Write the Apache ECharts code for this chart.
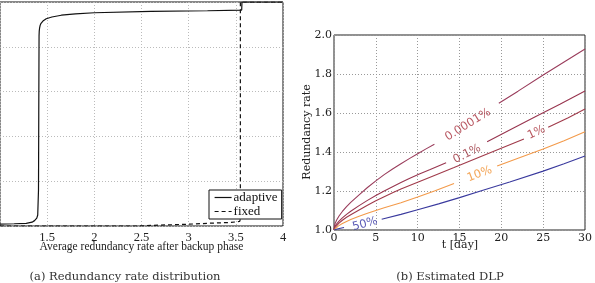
<!DOCTYPE html>
<html>
<head>
<meta charset="utf-8">
<script src="https://cdn.jsdelivr.net/npm/echarts@6/dist/echarts.min.js"></script>
<style>html,body{margin:0;padding:0;background:#fff}#c{width:595px;height:283px}</style>
</head>
<body>
<div id="c"></div>
<script>
// ---- (a) Redundancy rate distribution ----
const adaptiveX = [1.0, 1.15, 1.278, 1.34, 1.366, 1.39, 1.4, 1.408, 1.411, 1.414, 1.416, 1.42, 1.425, 1.435, 1.455, 1.49, 1.55, 1.65, 1.8, 2.0, 2.6, 3.2, 3.562, 3.565, 4.0];
const adaptiveY = [0.008, 0.01, 0.012, 0.017, 0.024, 0.035, 0.049, 0.16, 0.5, 0.85, 0.87, 0.885, 0.895, 0.905, 0.915, 0.925, 0.933, 0.941, 0.947, 0.952, 0.958, 0.961, 0.964, 1.0, 1.0];
const fixedX = [1.0, 2.45, 2.7, 3.0, 3.2, 3.45, 3.54, 3.548, 3.548, 4.0];
const fixedY = [0.0, 0.0, 0.004, 0.008, 0.012, 0.016, 0.02, 0.03, 1.0, 1.0];
const seriesNamesA = ['adaptive', 'fixed'];

// ---- (b) Estimated DLP ----
const dlpNames = ['0.0001%', '0.1%', '1%', '10%', '50%'];
const dlpT = [
  [0, 0.1, 0.3, 0.6, 1, 1.5, 2, 3, 4, 5, 6, 7, 8, 9, 10, 11, 12, null, 19.7, 22, 25, 27.5, 30],
  [0, 0.1, 0.3, 0.6, 1, 1.5, 2, 3, 4, 5, 6, 7, 8, 9, 10.2, 11.5, 13.4, null, 18.3, 21, 24, 27, 30],
  [0, 0.1, 0.3, 0.6, 1, 1.5, 2, 3, 4, 5, 6, 7, 8, 10, 12, 14.35, 18, 22.7, null, 25.6, 28, 30],
  [0, 0.2, 0.5, 1, 1.5, 2, 3, 4, 5, 6, 8, 10, 12, 14.35, null, 19.5, 22, 25, 27.5, 30],
  [0, 0.5, 1.2, null, 5.7, 8, 10, 12.5, 15, 17.9, 21, 25, 27.5, 30]
];
const dlpV = [
  [1.0, 1.03, 1.05, 1.072, 1.095, 1.12, 1.142, 1.18, 1.218, 1.252, 1.284, 1.313, 1.34, 1.366, 1.391, 1.416, 1.44, null, 1.65, 1.712, 1.795, 1.862, 1.928],
  [1.0, 1.018, 1.03, 1.045, 1.062, 1.08, 1.096, 1.125, 1.152, 1.177, 1.2, 1.222, 1.243, 1.264, 1.287, 1.31, 1.345, null, 1.453, 1.513, 1.58, 1.645, 1.713],
  [1.0, 1.012, 1.022, 1.035, 1.05, 1.065, 1.078, 1.103, 1.127, 1.15, 1.171, 1.191, 1.21, 1.245, 1.28, 1.32, 1.385, 1.467, null, 1.527, 1.576, 1.62],
  [1.0, 1.01, 1.02, 1.033, 1.044, 1.054, 1.071, 1.086, 1.1, 1.114, 1.14, 1.169, 1.2, 1.238, null, 1.328, 1.368, 1.415, 1.458, 1.504],
  [1.0, 1.006, 1.013, null, 1.055, 1.08, 1.104, 1.134, 1.166, 1.205, 1.246, 1.302, 1.34, 1.38]
];
const labelT = [16.0, 15.9, 24.2, 17.4, 3.7];
const labelV = [1.54, 1.39, 1.50, 1.287, 1.03];

// styles
const lineColors = ['#9a3d5c', '#98354f', '#a03a4a', '#f39a4a', '#3a3a9e'];
const textColors = ['#a8303c', '#9a2f3a', '#a8303a', '#f0902f', '#3535a5'];
const labelRot = [32, 27, 25, 21, 15];

const serifA = 'Liberation Serif';
const serifB = 'DejaVu Serif';

const chart = echarts.init(document.getElementById('c'), null, {renderer: 'canvas', width: 595, height: 283});

function pairs(xs, ys) {
  return xs.map((x, i) => (x === null ? ['-', '-'] : [x, ys[i]]));
}

const series = [
  {
    name: seriesNamesA[0], type: 'line', xAxisIndex: 0, yAxisIndex: 0,
    data: pairs(adaptiveX, adaptiveY), symbol: 'none', showSymbol: false,
    lineStyle: {color: '#111', width: 1.2}, itemStyle: {color: '#111'}
  },
  {
    name: seriesNamesA[1], type: 'line', xAxisIndex: 0, yAxisIndex: 0,
    data: pairs(fixedX, fixedY), symbol: 'none', showSymbol: false,
    lineStyle: {color: '#111', width: 1.2, type: [4, 3]}, itemStyle: {color: '#111'}
  }
];
dlpNames.forEach((n, i) => {
  series.push({
    name: n, type: 'line', xAxisIndex: 1, yAxisIndex: 1,
    data: pairs(dlpT[i], dlpV[i]), symbol: 'none', showSymbol: false,
    smooth: false, connectNulls: false,
    lineStyle: {color: lineColors[i], width: 1.1}
  });
});
series.push({
  type: 'scatter', xAxisIndex: 1, yAxisIndex: 1, symbolSize: 0, silent: true,
  data: dlpNames.map((n, i) => ({
    value: [labelT[i], labelV[i]],
    label: {
      show: true, position: 'inside', formatter: n, rotate: labelRot[i],
      color: textColors[i], fontFamily: 'DejaVu Sans', fontSize: 11.5
    }
  }))
});

const option = {
  animation: false,
  backgroundColor: '#fff',
  grid: [
    {left: -1.4, right: 312, top: 2, bottom: 57, show: true, borderColor: '#111', borderWidth: 1, backgroundColor: 'transparent'},
    {left: 334, right: 8, top: 35, bottom: 53, show: true, borderColor: '#222', borderWidth: 1, backgroundColor: 'transparent'}
  ],
  xAxis: [
    {
      type: 'value', gridIndex: 0, min: 1, max: 4, interval: 0.5,
      axisLine: {show: false}, axisTick: {show: false},
      axisLabel: {showMinLabel: false, fontFamily: serifA, fontSize: 12.5, color: '#222', margin: 5},
      splitLine: {show: true, lineStyle: {color: '#bbb', type: [1, 2], width: 1}}
    },
    {
      type: 'value', gridIndex: 1, min: 0, max: 30, interval: 5,
      axisLine: {show: false}, axisTick: {show: false},
      axisLabel: {fontFamily: serifB, fontSize: 11, color: '#222', margin: 3},
      splitLine: {show: true, lineStyle: {color: '#999', type: [1, 2], width: 1}}
    }
  ],
  yAxis: [
    {
      type: 'value', gridIndex: 0, min: 0, max: 1, interval: 0.2,
      axisLine: {show: false}, axisTick: {show: false}, axisLabel: {show: false},
      splitLine: {show: true, lineStyle: {color: '#bbb', type: [1, 2], width: 1}}
    },
    {
      type: 'value', gridIndex: 1, min: 1, max: 2, interval: 0.2,
      axisLine: {show: false}, axisTick: {show: false},
      axisLabel: {fontFamily: serifB, fontSize: 11, color: '#222', margin: 2, formatter: v => v.toFixed(1)},
      splitLine: {show: true, lineStyle: {color: '#999', type: [1, 2], width: 1}}
    }
  ],
  legend: {
    data: seriesNamesA, orient: 'vertical', left: 209, top: 190,
    padding: [1, 4, 1, 5], itemGap: 1, itemWidth: 17, itemHeight: 14,
    itemStyle: {opacity: 0}, lineStyle: {width: 1.2},
    backgroundColor: '#fff', borderColor: '#111', borderWidth: 1, borderRadius: 0,
    textStyle: {fontFamily: serifA, fontSize: 13, color: '#111', padding: [0, 0, 0, -3]}
  },
  graphic: [
    {type: 'text', style: {text: 'Average redundancy rate after backup phase', font: '11.5px "Liberation Serif"', fill: '#222', textAlign: 'center', textVerticalAlign: 'middle'}, x: 141.5, y: 247},
    {type: 'text', style: {text: '(a) Redundancy rate distribution', font: '11.5px "DejaVu Serif"', fill: '#333', textAlign: 'center', textVerticalAlign: 'middle'}, x: 125, y: 277},
    {type: 'text', style: {text: '(b) Estimated DLP', font: '11.5px "DejaVu Serif"', fill: '#333', textAlign: 'center', textVerticalAlign: 'middle'}, x: 450, y: 277},
    {type: 'text', style: {text: 't [day]', font: '11px "DejaVu Serif"', fill: '#222', textAlign: 'center', textVerticalAlign: 'middle'}, x: 460, y: 245},
    {type: 'text', style: {text: 'Redundancy rate', font: '11px "DejaVu Serif"', fill: '#222', textAlign: 'center', textVerticalAlign: 'middle'}, x: 307.5, y: 132, rotation: Math.PI / 2}
  ],
  series: series
};
chart.setOption(option);
</script>
</body>
</html>
